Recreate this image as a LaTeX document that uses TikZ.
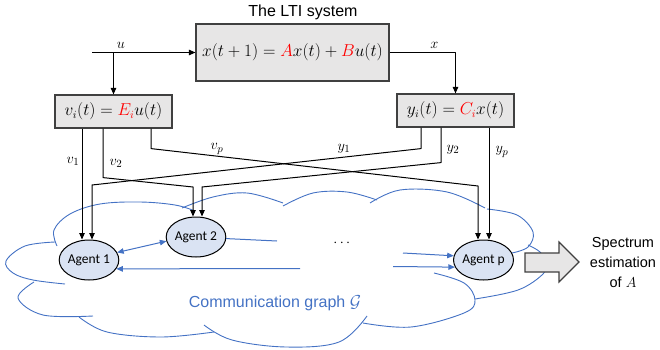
\documentclass[tikz,border=0pt]{standalone}
\usepackage{amsmath}
\usepackage{fontspec}
\usepackage{tikz}
\usetikzlibrary{arrows.meta, calc, positioning, shapes.geometric}
\usepackage{xcolor}
\newfontfamily\arialfont{Liberation Sans}
\newfontfamily\calibrifont{Carlito}
\definecolor{BoxGray}{HTML}{E7E6E6}
\definecolor{EdgeGray}{HTML}{404040}
\definecolor{AgentBlue}{HTML}{DAE3F3}
\definecolor{GraphBlue}{HTML}{4472C4}
\definecolor{MatRed}{HTML}{FF0000}
\newcommand{\matred}[1]{\textcolor{MatRed}{#1}}
\tikzset{%
  sys_block/.style={%
    rectangle,%
    draw=EdgeGray,%
    fill=BoxGray,%
    line width=1.2pt,%
    inner sep=0pt,%
    font={\fontsize{16}{19}\selectfont},%
    align=center%
  },
  title_text/.style={%
    font={\arialfont\fontsize{16}{19}\selectfont},%
  },
  agent_node/.style={%
    ellipse,%
    draw=black,%
    fill=AgentBlue,%
    line width=1pt,%
    minimum width=57pt,%
    minimum height=40pt,%
    inner sep=0pt,%
    font={\calibrifont\fontsize{13.5}{16}\selectfont},%
  },
  signal_path/.style={%
    color=black,%
    line join=round,%
    line width=1pt,%
  },
  signal_label/.style={%
    font={\fontsize{15}{18}\selectfont},%
  },
  comm_path/.style={%
    color=GraphBlue,%
    line width=1pt,%
  },
  cloud_line/.style={%
    color=GraphBlue,%
    line width=0.9pt,%
  },
  graph_label/.style={%
    color=GraphBlue,%
    font={\arialfont\fontsize{16}{19}\selectfont},%
  },
  result_arrow/.style={%
    draw=EdgeGray,%
    fill=BoxGray,%
    line width=1.2pt,%
    line join=miter,%
  },
  result_text/.style={%
    font={\arialfont\fontsize{14.5}{20}\selectfont},%
    align=center,%
  },
  arrow/.style={-{Triangle[length=6.5pt, width=5.5pt]}},
  comm_arrow/.style={-{Triangle[length=6.5pt, width=5.5pt]}},
  comm_both/.style={{Triangle[length=6.5pt, width=5.5pt]}-{Triangle[length=6.5pt, width=5.5pt]}},
}

\begin{document}
\begin{tikzpicture}[x=1pt, y=-1pt]
    \useasboundingbox (0,0) rectangle (660,350);

    % the cloud, lobe by lobe
    \draw [cloud_line] plot [smooth, tension=0.6] coordinates {(57,246) (54,230) (70,214) (100,204) (140,202) (175,205) (195,211)};
    \draw [cloud_line] plot [smooth, tension=0.6] coordinates {(182,208) (213,197) (247,193) (283,203)};
    \draw [cloud_line] plot [smooth, tension=0.6] coordinates {(283,206) (313,193) (347,192) (377,200)};
    \draw [cloud_line] plot [smooth, tension=0.6] coordinates {(370,203) (400,190) (447,192) (485,208)};
    \draw [cloud_line] plot [smooth, tension=0.6] coordinates {(487,209) (517,215) (533,232) (528,247) (512,253)};
    \draw [cloud_line] plot [smooth, tension=0.6] coordinates {(528,245) (540,252) (546,263) (543,274) (518,290) (475,299)};
    \draw [cloud_line] plot [smooth, tension=0.6] coordinates {(434,273) (464,283) (475,300) (464,313) (411,327) (363,323)};
    \draw [cloud_line] plot [smooth, tension=0.6] coordinates {(367,316) (339,342) (286,347) (232,340) (204,325)};
    \draw [cloud_line] plot [smooth, tension=0.6] coordinates {(79,317) (107,332) (161,337) (214,332)};
    \draw [cloud_line] plot [smooth, tension=0.6] coordinates {(34,282) (18,298) (43,315) (93,316)};
    \draw [cloud_line] plot [smooth, tension=0.6] coordinates {(55,242) (25,246) (6,261) (13,273) (33,280) (65,284)};

    \node [sys_block, minimum width=193pt, minimum height=57pt] (LTI) at (292.5,52.5)
      {$x(t+1) = \matred{A}x(t) + \matred{B}u(t)$};
    \node [title_text] (Title) at (303,12) {The LTI system};
    \node [sys_block, minimum width=117pt, minimum height=33pt] (Input) at (113.5,111.5)
      {$v_i(t) = \matred{E_i}u(t)$};
    \node [sys_block, minimum width=117pt, minimum height=33pt] (Output) at (455.5,110.5)
      {$y_i(t) = \matred{C_i}x(t)$};
    \coordinate (u_in) at (92,52.5);
    \coordinate (u_split) at (Input.north |- u_in);

    \node [agent_node] (Agent1) at (89,260) {Agent 1};
    \node [agent_node] (Agent2) at (196,237) {Agent 2};
    \node [agent_node] (AgentP) at (483.5,260) {Agent p};

    \node [graph_label] (Graph) at (275,303) {Communication graph $\mathcal{G}$};
    \node [signal_label] (Dots) at (343,243) {$\cdots$};

    % plant signals
    \draw [arrow, signal_path]
      (u_in)
      --
      node [signal_label, pos=0.28, above] {$u$}
      (LTI.west);
    \draw [arrow, signal_path]
      (u_split)
      --
      (Input.north);
    \draw [arrow, signal_path]
      (LTI.east)
      -|
      node [signal_label, pos=0.34, above] {$x$}
      (Output.north);

    % local measurements to the agents
    \draw [arrow, signal_path]
      ([xshift=-31.5pt]Input.south)
      --
      ([xshift=-7pt]Agent1.north);
    \draw [arrow, signal_path]
      ([xshift=-10.5pt]Input.south)
      --
      ++(0,49)
      --
      (193,187)
      --
      ([xshift=-3pt]Agent2.north);
    \draw [arrow, signal_path]
      ([xshift=37.5pt]Input.south)
      --
      ++(0,20)
      --
      (478,186)
      --
      ([xshift=-5.5pt]AgentP.north);
    \draw [arrow, signal_path]
      ([xshift=-34.5pt]Output.south)
      --
      ++(0,21)
      --
      (92,185)
      --
      ([xshift=3pt]Agent1.north);
    \draw [arrow, signal_path]
      ([xshift=-14.5pt]Output.south)
      --
      ++(0,35)
      --
      (202,187)
      --
      ([xshift=6pt]Agent2.north);
    \draw [arrow, signal_path]
      ([xshift=33.5pt]Output.south)
      --
      ([xshift=5.5pt]AgentP.north);

    \node [signal_label] (v1) at (73,161) {$v_1$};
    \node [signal_label] (v2) at (116,163) {$v_2$};
    \node [signal_label] (vp) at (217,149) {$v_p$};
    \node [signal_label] (y1) at (344,149) {$y_1$};
    \node [signal_label] (y2) at (453,150) {$y_2$};
    \node [signal_label] (yp) at (502,152) {$y_p$};

    % communication between the agents
    \coordinate (to_a1) at (300,268.5);
    \coordinate (from_a2) at (277,241);
    \coordinate (to_ap1) at (403,253);
    \coordinate (to_ap2) at (393,266.5);
    \draw [comm_both, comm_path] (Agent1.15) -- (Agent2.188);
    \draw [comm_arrow, comm_path] (to_a1) -- (Agent1.-18);
    \draw [comm_path] (Agent2.-3) -- (from_a2);
    \draw [comm_arrow, comm_path] (to_ap1) -- (AgentP.172);
    \draw [comm_arrow, comm_path] (to_ap2) -- (AgentP.194);

    % result
    \draw [result_arrow]
      (525,253) -- (559,253) -- (559,242) -- (579,262)
      -- (559,282) -- (559,272) -- (525,272) -- cycle;
    \node [result_text] (Result) at (623,263) {Spectrum\\estimation\\of $A$};
  \end{tikzpicture}
\end{document}
